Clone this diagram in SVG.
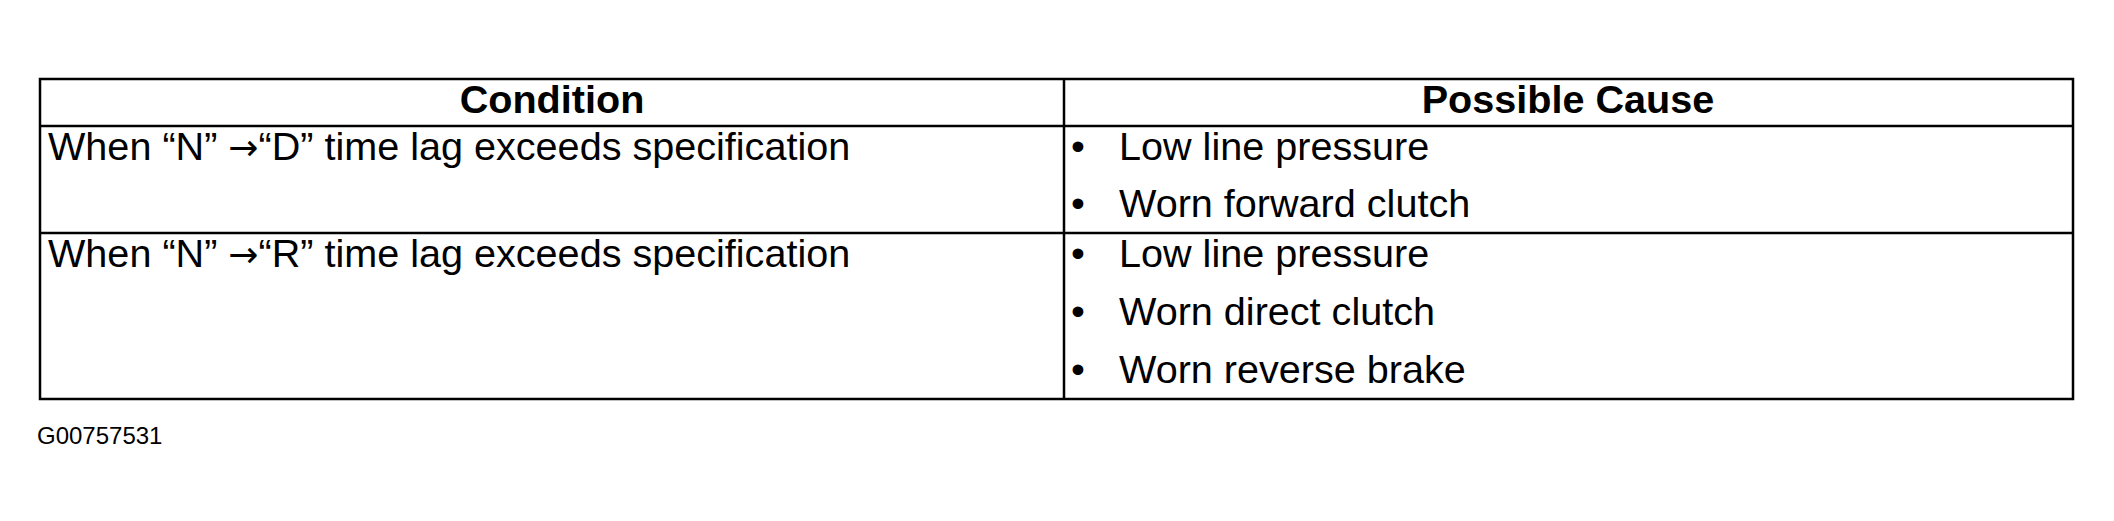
<svg xmlns="http://www.w3.org/2000/svg" width="2114" height="521" viewBox="0 0 2114 521">
<style>
.t{font-family:"Liberation Sans",Arial,sans-serif;font-size:39.6px;fill:#000}
.b{font-weight:bold}
.ar{font-family:"DejaVu Sans",sans-serif;font-size:36px}
.ln{stroke:#000;stroke-width:2.5;fill:none}
.id{font-family:"Liberation Sans",Arial,sans-serif;font-size:24px;fill:#000}
</style>
<rect width="2114" height="521" fill="#fff"/>
<g id="grid">
<rect class="ln" x="40" y="79" width="2033" height="320"/>
<line class="ln" x1="40" y1="126" x2="2073" y2="126"/>
<line class="ln" x1="40" y1="233" x2="2073" y2="233"/>
<line class="ln" x1="1064" y1="79" x2="1064" y2="399"/>
</g>
<g id="header-condition">
<text class="t b" x="552" y="113" text-anchor="middle">Condition</text>
</g>
<g id="header-cause">
<text class="t b" x="1568" y="113" text-anchor="middle">Possible Cause</text>
</g>
<g id="row1-condition">
<text class="t" x="48" y="160">When “N” <tspan class="ar">→</tspan>“D” time lag exceeds specification</text>
</g>
<g id="row1-cause">
<text class="t" x="1071" y="160">•</text>
<text class="t" x="1119" y="160">Low line pressure</text>
<text class="t" x="1071" y="217">•</text>
<text class="t" x="1119" y="217">Worn forward clutch</text>
</g>
<g id="row2-condition">
<text class="t" x="48" y="267">When “N” <tspan class="ar">→</tspan>“R” time lag exceeds specification</text>
</g>
<g id="row2-cause">
<text class="t" x="1071" y="267">•</text>
<text class="t" x="1119" y="267">Low line pressure</text>
<text class="t" x="1071" y="325">•</text>
<text class="t" x="1119" y="325">Worn direct clutch</text>
<text class="t" x="1071" y="383">•</text>
<text class="t" x="1119" y="383">Worn reverse brake</text>
</g>
<g id="figure-id">
<text class="id" x="37" y="444">G00757531</text>
</g>
</svg>
